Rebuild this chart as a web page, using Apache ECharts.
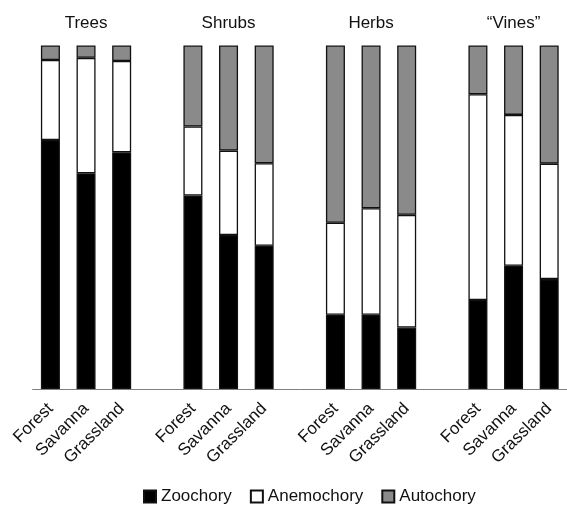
<!DOCTYPE html>
<html>
<head>
<meta charset="utf-8">
<script src="https://cdn.jsdelivr.net/npm/echarts@6/dist/echarts.min.js"></script>
<style>html,body{margin:0;padding:0;background:#fff}#c{width:567px;height:507px}</style>
</head>
<body>
<div id="c"></div>
<script>
const groups = ['Trees', 'Shrubs', 'Herbs', '\u201cVines\u201d'];
const habitats = ['Forest', 'Savanna', 'Grassland'];
// values in % per group, in habitat order (Forest, Savanna, Grassland)
const zoochory   = [72.5, 62.8, 68.9,  56.3, 44.8, 41.7,  21.6, 21.6, 17.9,  25.9, 35.9, 32.0];
const anemochory = [23.3, 33.6, 26.6,  20.1, 24.6, 24.0,  26.8, 31.0, 32.8,  59.9, 43.9, 33.6];
const autochory  = [ 4.2,  3.6,  4.5,  23.6, 30.6, 34.3,  51.6, 47.4, 49.3,  14.2, 20.2, 34.4];

// build category axis with one blank slot between groups
const cats = [], topCats = [];
const expand = arr => { const out = []; groups.forEach((g, gi) => {
  if (gi > 0) out.push('-');
  habitats.forEach((h, hi) => out.push(arr[gi * 3 + hi]));
}); return out; };
groups.forEach((g, gi) => {
  if (gi > 0) { cats.push(''); topCats.push(''); }
  habitats.forEach((h, hi) => { cats.push(h); topCats.push(hi === 1 ? g : ''); });
});

const font = 'Liberation Sans, Arial, sans-serif';
const mk = (name, data, color) => ({
  name, type: 'bar', stack: 'all', data: expand(data), barWidth: 19,
  itemStyle: { color, borderColor: '#111', borderWidth: 1.3 },
  emphasis: { disabled: true }
});

const chart = echarts.init(document.getElementById('c'));
chart.setOption({
  animation: false,
  grid: { left: 32.6, top: 45.5, width: 537, bottom: 118 },
  legend: {
    top: 483, left: 138, itemWidth: 12, itemHeight: 12, itemGap: 18, icon: 'rect',
    textStyle: { fontFamily: font, fontSize: 17, color: '#111' }
  },
  xAxis: [{
    type: 'category', data: cats, position: 'bottom',
    axisLine: { lineStyle: { color: '#808080', width: 1 } },
    axisTick: { show: false },
    axisLabel: { interval: 0, rotate: 45, margin: 17, fontFamily: font, fontSize: 17, color: '#111' }
  }, {
    type: 'category', data: topCats, position: 'top',
    axisLine: { show: false }, axisTick: { show: false },
    axisLabel: { interval: 0, margin: 14, fontFamily: font, fontSize: 17, color: '#111' }
  }],
  yAxis: { type: 'value', min: 0, max: 100, show: false },
  series: [
    mk('Zoochory', zoochory, '#000000'),
    mk('Anemochory', anemochory, '#ffffff'),
    mk('Autochory', autochory, '#8a8a8a')
  ]
});
</script>
</body>
</html>
